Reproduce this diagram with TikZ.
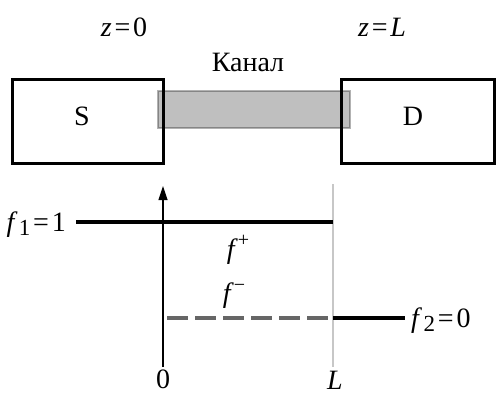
\documentclass[tikz,border=0pt]{standalone}
\usepackage{fontspec}
\setmainfont{Liberation Serif}
\usetikzlibrary{arrows.meta}
\newcommand{\eqsp}{\kern0.1em=\kern0.1em}
\begin{document}
\begin{tikzpicture}[x=1pt,y=-1pt,
  lbl/.style={inner sep=0pt,font=\fontsize{28}{32}\selectfont},
  boxst/.style={draw=black,line width=3pt},
  thick line/.style={line width=3.4pt,black},
]
\useasboundingbox (0,0) rectangle (496,392);
% boxes
\draw[boxst] (12,79) rectangle (163,163);
\draw[boxst] (341,79) rectangle (494,163);
\node[lbl] (S) at (82,116) {S};
\node[lbl] (D) at (413,116) {D};
% channel
\draw[draw=black,draw opacity=0.3,line width=1.5pt,fill=black,fill opacity=0.25] (158,91) rectangle (350,128);
\node[lbl] (kanal) at (248,62) {Канал};
\node[lbl] (z0) at (124,27) {\textit{z}\eqsp 0};
\node[lbl] (zL) at (382,27) {\textit{z}\eqsp\textit{L}};
% axis
\coordinate (ax0) at (163,367);
\coordinate (ax1) at (163,186);
\draw[line width=1.2pt,-{Triangle[length=14pt,width=9pt]}] (ax0) -- (ax1);
\coordinate (gl0) at (333,184);
\coordinate (gl1) at (333,367);
\draw[line width=2pt,black!22] (gl0) -- (gl1);
% f1
\coordinate (f1a) at (76,222);
\coordinate (f1b) at (333,222);
\draw[thick line] (f1a) -- (f1b);
\node[lbl,anchor=east] (f1) at (66,225) {\textit{f}\kern0.05em\raisebox{-0.3ex}{\fontsize{23}{25}\selectfont 1}\eqsp 1};
% f2
\coordinate (f2a) at (163,318);
\coordinate (f2b) at (333,318);
\coordinate (f2c) at (405,318);
\draw[line width=3.4pt,black!60,dash pattern=on 21pt off 7pt,dash phase=-4pt] (f2a) -- (f2b);
\draw[thick line] (f2b) -- (f2c);
\node[lbl,anchor=west] (f2) at (411,321) {\textit{f}\kern0.05em\raisebox{-0.3ex}{\fontsize{23}{25}\selectfont 2}\eqsp 0};
\node[lbl] (fp) at (238,250) {\textit{f}\raisebox{0.9ex}{\fontsize{20}{22}\selectfont +}};
\node[lbl] (fm) at (234,296) {\textit{f}\raisebox{0.9ex}{\fontsize{20}{22}\selectfont −}};
\node[lbl] (zero) at (163,379) {0};
\node[lbl] (Ll) at (335,380) {\textit{L}};
\end{tikzpicture}
\end{document}
